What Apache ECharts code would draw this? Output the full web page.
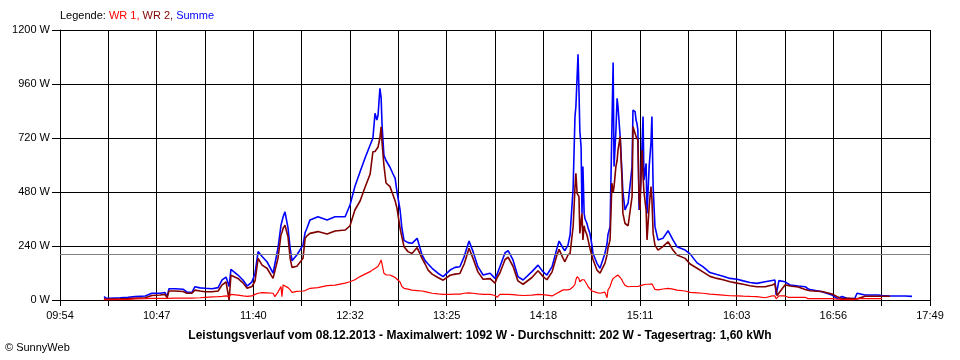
<!DOCTYPE html>
<html>
<head>
<meta charset="utf-8">
<script src="https://cdn.jsdelivr.net/npm/echarts@6/dist/echarts.min.js"></script>
<style>html,body{margin:0;padding:0;background:#fff}#c{width:960px;height:360px}</style>
</head>
<body>
<div id="c"></div>
<script>
// Sample times (HH:MM:SS)
const times = [
"10:18:00","10:19:10","10:21:20","10:26:50","10:31:10","10:35:00","10:40:30","10:44:10","10:48:40","10:51:20",
"10:52:30","10:53:30","10:56:50","11:01:10","11:03:20","11:06:00","11:07:40","11:10:30","11:13:10","11:17:00",
"11:20:20","11:22:30","11:24:40","11:25:40","11:26:20","11:27:20","11:28:00","11:31:10","11:34:00","11:36:10",
"11:38:50","11:40:30","11:42:10","11:44:20","11:47:00","11:50:20","11:51:20","11:53:00","11:54:40","11:55:10",
"11:55:50","11:56:50","11:58:30","11:59:40","12:00:40","12:03:20","12:06:40","12:07:50","12:08:50","12:10:30",
"12:14:50","12:19:50","12:24:10","12:29:40","12:32:20","12:35:00","12:37:50","12:40:30","12:43:20","12:44:50",
"12:46:00","12:47:00","12:47:40","12:48:40","12:49:20","12:49:50","12:50:50","12:52:00","12:54:10","12:55:50",
"12:57:00","12:58:00","12:59:40","13:00:40","13:01:50","13:04:00","13:06:10","13:09:00","13:11:40","13:13:20",
"13:15:00","13:17:10","13:20:20","13:23:10","13:27:00","13:29:40","13:32:20","13:34:40","13:37:20","13:39:30",
"13:42:10","13:45:00","13:48:50","13:51:30","13:52:40","13:54:10","13:57:00","13:58:40","14:01:20","14:04:00",
"14:06:50","14:11:40","14:15:00","14:17:40","14:19:50","14:22:40","14:25:20","14:26:30","14:28:40","14:29:40",
"14:31:20","14:32:30","14:33:30","14:34:10","14:35:10","14:35:40","14:36:20","14:36:50","14:37:20","14:37:50",
"14:38:30","14:39:00","14:39:30","14:40:10","14:40:40","14:41:40","14:42:20","14:43:20","14:44:30","14:45:00",
"14:47:10","14:48:50","14:51:30","14:52:40","14:53:10","14:54:20","14:55:20","14:56:00","14:56:30","14:57:30",
"14:58:10","14:58:40","14:59:50","15:00:50","15:01:20","15:02:30","15:03:30","15:04:10","15:05:10","15:06:20",
"15:06:50","15:08:00","15:08:30","15:09:00","15:09:30","15:10:10","15:10:40","15:11:10","15:11:50","15:12:20",
"15:12:50","15:14:00","15:14:30","15:15:40","15:16:40","15:17:10","15:17:50","15:18:50","15:20:30","15:23:10",
"15:26:00","15:28:40","15:30:50","15:35:20","15:38:00","15:41:50","15:45:00","15:48:50","15:52:40","15:56:00",
"15:59:50","16:03:40","16:07:00","16:10:40","16:14:30","16:19:00","16:22:50","16:24:20","16:25:00","16:25:30",
"16:26:30","16:29:50","16:31:30","16:32:40","16:37:00","16:40:50","16:42:20","16:43:30","16:50:00","16:55:30",
"16:58:20","17:01:00","17:04:20","17:08:00","17:09:10","17:13:30","17:20:40","17:22:50","17:27:10","17:35:20",
"17:39:10"
];
// WR 1 (W)
const wr1 = [
2,2,2,2,3,5,6,7,7,7,
7,8,8,8,8,8,9,10,12,14,
15,16,18,20,15,25,27,22,18,16,
18,25,30,33,32,30,15,35,60,15,
67,70,55,45,34,38,40,42,45,52,
55,64,66,75,81,90,104,115,126,135,
140,148,150,165,178,160,119,112,111,105,
100,96,80,60,52,48,44,42,40,37,
34,30,27,25,25,26,26,30,32,30,
27,25,25,20,12,25,25,25,24,22,
20,22,25,24,22,18,30,35,45,44,
45,48,55,59,70,90,104,100,95,81,
85,90,96,90,85,70,59,50,40,37,
33,30,35,10,44,60,85,96,100,105,
108,111,100,89,80,65,59,59,59,60,
60,60,60,59,60,62,63,64,66,67,
68,70,74,70,70,72,65,47,45,49,
52,48,44,40,34,32,30,26,24,22,
19,18,17,16,15,10,18,18,5,5,
18,18,12,12,12,12,6,6,6,6,
4,3,2,2,6,6,6,6,null,null,
null
];
// WR 2 (W)
const wr2 = [
5,3,4,5,6,8,10,20,22,25,
10,40,40,38,30,30,44,40,37,37,
40,67,80,80,0,110,111,96,75,52,
60,85,185,155,141,96,100,185,290,300,
319,333,280,185,145,150,185,274,285,296,
304,293,307,311,330,400,440,500,560,659,
660,667,680,720,770,700,600,520,504,467,
440,407,319,280,237,215,207,233,185,160,
133,115,100,88,110,115,118,160,230,185,
125,92,95,75,100,120,180,190,150,85,
70,100,130,105,90,125,200,225,185,170,
200,207,280,326,500,563,474,470,459,296,
350,385,267,330,311,290,267,230,193,180,
133,119,163,200,230,267,519,480,504,593,
620,667,726,533,385,340,333,330,326,459,
770,740,726,720,711,450,400,550,667,548,
480,400,267,415,504,450,296,244,222,237,
259,222,200,185,160,141,125,105,96,90,
81,75,70,63,59,59,67,72,74,20,
15,67,65,62,58,47,43,41,38,27,
15,5,8,5,5,17,17,17,17,null,
null
];
// Summe (W)
const summe = [
15,8,8,10,12,15,18,30,30,33,
15,50,50,48,35,33,59,54,52,50,
55,89,102,104,60,136,136,111,88,62,
81,119,215,193,170,119,125,230,333,340,
370,392,319,230,175,200,244,300,319,356,
370,356,370,370,422,504,570,630,689,719,
830,800,822,941,900,778,644,620,590,560,
541,480,400,319,265,255,252,274,200,175,
160,141,119,104,133,145,148,193,262,215,
148,111,119,96,115,148,210,219,178,104,
89,126,155,126,111,148,230,262,230,219,
244,290,415,500,815,860,859,1092,933,750,
681,385,593,385,360,341,320,296,240,207,
163,141,207,250,290,326,770,1055,593,750,
896,859,726,563,480,400,420,430,504,593,
844,837,800,785,756,400,450,533,700,815,
533,607,385,593,700,815,504,326,267,274,
308,267,237,222,205,165,148,122,113,106,
96,92,85,78,74,81,87,89,22,22,
86,81,72,67,62,59,50,47,37,22,
7,15,6,8,30,22,22,20,18,18,
16
];
const yTicks = [0, 240, 480, 720, 960, 1200];
const average = 202;
const legendText = ["Legende: ", "WR 1, ", "WR 2, ", "Summe"];
const titleText = "Leistungsverlauf vom 08.12.2013 - Maximalwert: 1092 W - Durchschnitt: 202 W - Tagesertrag: 1,60 kWh";
const copyright = "\u00A9 SunnyWeb";
const axisStart = "09:54", axisEnd = "17:49", xDivisions = 18;

function toMin(s){const p=s.split(':').map(Number);return p[0]*60+p[1]+(p[2]||0)/60;}
const t0 = toMin(axisStart), span = toMin(axisEnd) - t0;
const xInt = span / xDivisions;
const xs = times.map(t => toMin(t) - t0);
const mk = arr => xs.map((x,i)=>[x, arr[i]]);
function fmt(v){
  const idx = Math.round(v/xInt);
  if (idx % 2) return '';
  const m = Math.round(t0 + v);
  const h = Math.floor(m/60), mm = m%60;
  return (h<10?'0':'')+h+':'+(mm<10?'0':'')+mm;
}
const font = 'Liberation Sans, Arial, sans-serif';
const chart = echarts.init(document.getElementById('c'), null, {renderer:'canvas'});
chart.setOption({
  animation:false,
  backgroundColor:'#ffffff',
  grid:{left:60,right:30,top:30,bottom:60,containLabel:false},
  xAxis:{type:'value',min:0,max:span,interval:xInt,
    axisLine:{show:true,lineStyle:{color:'#000',width:1}},
    axisTick:{show:true,length:6,lineStyle:{color:'#000'}},
    splitLine:{show:true,lineStyle:{color:'#000',width:1}},
    axisLabel:{formatter:fmt,color:'#000',fontFamily:font,fontSize:11,margin:10,showMinLabel:true,showMaxLabel:true}
  },
  yAxis:{type:'value',min:yTicks[0],max:yTicks[yTicks.length-1],interval:yTicks[1]-yTicks[0],
    axisLine:{show:true,lineStyle:{color:'#000',width:1}},
    axisTick:{show:true,length:8,lineStyle:{color:'#000'}},
    splitLine:{show:true,lineStyle:{color:'#000',width:1}},
    axisLabel:{formatter:function(v){return v+' W';},color:'#000',fontFamily:font,fontSize:11,margin:10}
  },
  graphic:[
    {type:'text',left:60,top:10,style:{
      text:'{a|'+legendText[0]+'}{b|'+legendText[1]+'}{c|'+legendText[2]+'}{d|'+legendText[3]+'}',
      rich:{a:{fill:'#000',fontFamily:font,fontSize:11},b:{fill:'#ff0000',fontFamily:font,fontSize:11},
            c:{fill:'#800000',fontFamily:font,fontSize:11},d:{fill:'#0000ff',fontFamily:font,fontSize:11}}}},
    {type:'text',left:'center',top:330,style:{text:titleText,fill:'#000',fontFamily:font,fontSize:12,fontWeight:'bold'}},
    {type:'text',left:5,top:342,style:{text:copyright,fill:'#000',fontFamily:font,fontSize:11}}
  ],
  series:[
    {name:'Summe',type:'line',data:mk(summe),showSymbol:false,symbol:'none',lineStyle:{color:'#0000ff',width:1.6},
     markLine:{silent:true,symbol:['none','none'],label:{show:false},lineStyle:{color:'#808080',type:'solid',width:1},data:[{yAxis:average}]}},
    {name:'WR 2',type:'line',data:mk(wr2),showSymbol:false,symbol:'none',lineStyle:{color:'#800000',width:1.6}},
    {name:'WR 1',type:'line',data:mk(wr1),showSymbol:false,symbol:'none',lineStyle:{color:'#ff0000',width:1.2}}
  ]
});
</script>
</body>
</html>
